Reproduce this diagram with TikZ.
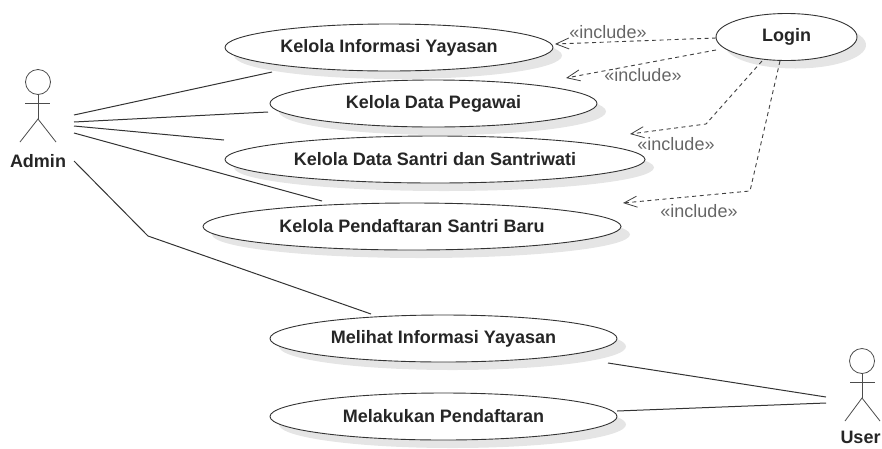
\documentclass[tikz,border=0pt]{standalone}
\usepackage{fontspec}
\setmainfont{Liberation Sans}
\usepackage{xcolor}
\usetikzlibrary{arrows.meta, shapes.geometric, shadows}

\begin{document}
\begin{tikzpicture}[
        x=1pt, y=-1pt,
        usecase/.style={ellipse, draw=black!80, fill=white, line width=0.9pt, inner sep=0pt, minimum height=47pt, font=\fontsize{18}{20}\selectfont\bfseries, text=black!85, drop shadow={shadow xshift=9pt, shadow yshift=-8pt, fill=black!10, opacity=1}},
        actorhead/.style={circle, draw=black!70, fill=white, line width=0.8pt, inner sep=0pt, minimum size=25pt},
        actorname/.style={font=\fontsize{18}{20}\selectfont\bfseries, text=black!85, inner sep=0pt},
        stick/.style={draw=black!70, line width=0.8pt},
        assoc/.style={draw=black!80, line width=1pt},
        incl/.style={draw=black!75, line width=0.9pt, dash pattern=on 4pt off 3.5pt, -{Straight Barb[length=13pt, width=11pt, line width=0.8pt]}},
        inclabel/.style={font=\fontsize{18}{20}\selectfont, text=black!60, inner sep=0pt},
    ]
        \useasboundingbox (0,0) rectangle (882,448);

        % Use cases
        \node[usecase, minimum width=328pt] (info) at (389,47.5) {Kelola Informasi Yayasan};
        \node[usecase, minimum width=327pt] (pegawai) at (433.5,103.5) {Kelola Data Pegawai};
        \node[usecase, minimum width=420pt] (santri) at (435,159.5) {Kelola Data Santri dan Santriwati};
        \node[usecase, minimum width=418pt] (daftar) at (412,226.5) {Kelola Pendaftaran Santri Baru};
        \node[usecase, minimum width=141pt] (login) at (786.5,37) {Login};
        \node[usecase, minimum width=347pt] (melihat) at (443.5,338.5) {Melihat Informasi Yayasan};
        \node[usecase, minimum width=347pt] (lakukan) at (443.5,416.5) {Melakukan Pendaftaran};

        % Admin
        \node[actorhead] (adminhead) at (38,82) {};
        \node[actorname] (admin) at (38,161) {Admin};
        \coordinate (adminhip) at (38,119);
        \draw[stick] (adminhead.south) -- (adminhip);
        \draw[stick] (25,103) -- (50,103);
        \draw[stick] (20,142) -- (adminhip) -- (56,142);

        % User
        \node[actorhead] (userhead) at (862,361) {};
        \node[actorname] (user) at (860.5,437.5) {User};
        \coordinate (userhip) at (862,398);
        \draw[stick] (userhead.south) -- (userhip);
        \draw[stick] (850,382) -- (875,382);
        \draw[stick] (845,421) -- (userhip) -- (880,421);

        % Free ends
        \coordinate (a1) at (74,115);
        \coordinate (a2) at (74,122);
        \coordinate (a3) at (74,126);
        \coordinate (a4) at (74,133);
        \coordinate (a5) at (74,161);
        \coordinate (infoend) at (272,72);
        \coordinate (pegawaiend) at (268,112);
        \coordinate (santriend) at (224,140);
        \coordinate (daftarend) at (322,201);
        \coordinate (melihatend) at (371,314);
        \coordinate (adminbend) at (148,236);
        \coordinate (melihatout) at (608,363);
        \coordinate (lakukanout) at (617,411);
        \coordinate (u1) at (826,397);
        \coordinate (u2) at (826,403);

        % Associations
        \draw[assoc] (a1) -- (infoend);
        \draw[assoc] (a2) -- (pegawaiend);
        \draw[assoc] (a3) -- (santriend);
        \draw[assoc] (a4) -- (daftarend);
        \draw[assoc] (a5) -- (adminbend) -- (melihatend);
        \draw[assoc] (melihatout) -- (u1);
        \draw[assoc] (lakukanout) -- (u2);

        % Includes
        \coordinate (infotip) at (555,44);
        \coordinate (pegawaitip) at (566,78);
        \coordinate (santritip) at (630,134);
        \coordinate (daftartip) at (623,203);
        \coordinate (loginA) at (716,38);
        \coordinate (loginB) at (716,50);
        \coordinate (loginC) at (762,61);
        \coordinate (loginD) at (780,61);
        \coordinate (bendC) at (706,124);
        \coordinate (bendD) at (750,191);
        \draw[incl] (loginA) -- (infotip);
        \draw[incl] (loginB) -- (pegawaitip);
        \draw[incl] (loginC) -- (bendC) -- (santritip);
        \draw[incl] (loginD) -- (bendD) -- (daftartip);

        \node[inclabel] (inc1) at (608,32) {«include»};
        \node[inclabel] (inc2) at (643,75) {«include»};
        \node[inclabel] (inc3) at (676,144) {«include»};
        \node[inclabel] (inc4) at (699,211) {«include»};
    \end{tikzpicture}
\end{document}
